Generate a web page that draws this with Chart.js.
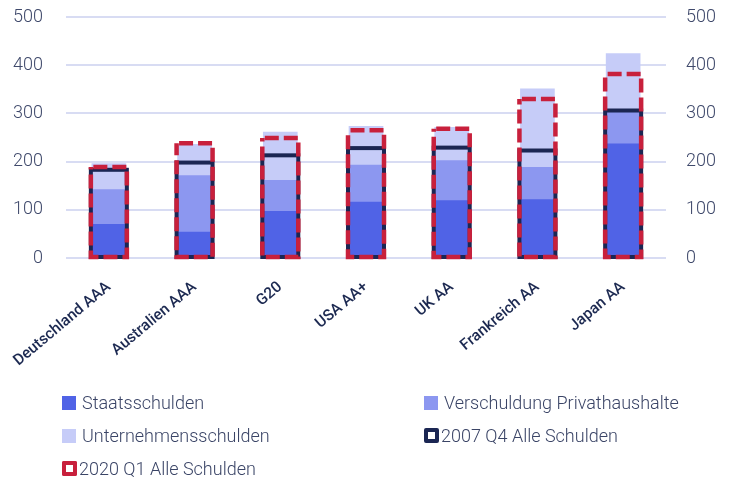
<!DOCTYPE html>
<html>
<head>
<meta charset="utf-8">
<script src="https://cdn.jsdelivr.net/npm/chart.js@4.4.0/dist/chart.umd.min.js"></script>
<style>
  html, body { margin: 0; padding: 0; background: #fff; }
  #wrap { position: relative; width: 732px; height: 482px; }
  #legend {
    position: absolute; left: 62px; top: 386px; width: 660px;
    display: grid; grid-template-columns: 362px auto; grid-auto-rows: 33px;
    font: 300 18px Roboto, sans-serif; color: #3a4466;
  }
  .item { display: flex; align-items: center; }
  .sw { width: 14px; height: 14px; margin-right: 6px; box-sizing: border-box; flex: none; }
</style>
</head>
<body>
<div id="wrap">
  <canvas id="debtChart" width="732" height="482"></canvas>
  <div id="legend"></div>
</div>
<script>
// Schuldenquoten in % des BIP
const laender = ['Deutschland AAA', 'Australien AAA', 'G20', 'USA AA+', 'UK AA', 'Frankreich AA', 'Japan AA'];
const staatsschulden = [70, 54, 97, 116, 119, 121, 237];
const privathaushalte = [72, 117, 64, 77, 83, 67, 66];
const unternehmensschulden = [54, 65, 100, 80, 69, 163, 121];
const alleSchulden2007 = [183, 198, 213, 228, 229, 223, 306];
const alleSchulden2020 = [189, 238, 249, 265, 268, 330, 382];
const yTicks = [0, 100, 200, 300, 400, 500];

const tickFont = { family: 'Roboto', size: 18, weight: 300 };

// Umrisse fuer die "Alle Schulden"-Balken (gestrichelt geht nicht mit borderWidth)
const outlinePlugin = {
  id: 'outlines',
  afterDatasetsDraw(chart) {
    const ctx = chart.ctx;
    chart.data.datasets.forEach((ds, i) => {
      if (!ds.outline) return;
      const meta = chart.getDatasetMeta(i);
      ctx.save();
      ctx.strokeStyle = ds.outline.color;
      ctx.lineWidth = ds.outline.width;
      ctx.setLineDash(ds.outline.dash);
      ctx.lineDashOffset = ds.outline.offset;
      meta.data.forEach(bar => {
        const { x, y, base, width } = bar.getProps(['x', 'y', 'base', 'width'], true);
        ctx.strokeRect(x - width / 2, y, width, base - y);
      });
      ctx.restore();
    });
  }
};

// feste Achsenmasse statt automatischer Abstaende
const fixSize = (w, h) => axis => {
  axis.paddingTop = 0; axis.paddingBottom = 0;
  axis.paddingLeft = 0; axis.paddingRight = 0;
  if (w) axis.width = w;
  if (h) axis.height = h;
};
const setTicks = axis => { axis.ticks = yTicks.map(v => ({ value: v })); };

const datasets = [
  { label: 'Staatsschulden', data: staatsschulden, backgroundColor: '#5063e6', stack: 'main', barThickness: 34 },
  { label: 'Verschuldung Privathaushalte', data: privathaushalte, backgroundColor: '#8c97f0', stack: 'main', barThickness: 34 },
  { label: 'Unternehmensschulden', data: unternehmensschulden, backgroundColor: '#c6ccf8', stack: 'main', barThickness: 34 },
  { label: '2007 Q4 Alle Schulden', data: alleSchulden2007, backgroundColor: 'rgba(0,0,0,0)', stack: 'q4',
    grouped: false, maxBarThickness: 36, outline: { color: '#1b2653', width: 4, dash: [], offset: 0 } },
  { label: '2020 Q1 Alle Schulden', data: alleSchulden2020, backgroundColor: 'rgba(0,0,0,0)', stack: 'q1',
    grouped: false, maxBarThickness: 36, outline: { color: '#c8203c', width: 4.5, dash: [14, 5], offset: -2.5 } }
];

const ctx = document.getElementById('debtChart').getContext('2d');

const debtChart = new Chart(ctx, {
  type: 'bar',
  data: { labels: laender, datasets: datasets },
  options: {
    responsive: false,
    animation: false,
    layout: { padding: { top: 17, left: 0, right: 0, bottom: 74 } },
    plugins: {
      legend: { display: false },
      tooltip: { enabled: false }
    },
    scales: {
      x: {
        stacked: true,
        afterFit: fixSize(0, 150),
        grid: { display: false },
        border: { display: false },
        ticks: {
          minRotation: 40, maxRotation: 40, padding: 12, autoSkip: false,
          color: '#1c2951',
          font: { family: 'Roboto', size: 15.5, weight: 500 }
        }
      },
      y: {
        stacked: true,
        min: 0, max: 500,
        afterBuildTicks: setTicks,
        afterFit: fixSize(66, 0),
        grid: { color: '#d8dcf3', lineWidth: 2, drawTicks: false },
        border: { display: false },
        ticks: { padding: 23, color: '#3f496b', font: tickFont }
      },
      y2: {
        position: 'right',
        min: 0, max: 500,
        afterBuildTicks: setTicks,
        afterFit: fixSize(66, 0),
        grid: { display: false, drawTicks: false },
        border: { display: false },
        ticks: { padding: 20, color: '#3f496b', font: tickFont }
      }
    }
  },
  plugins: [outlinePlugin]
});

// Legende in zwei Spalten
const legendEl = document.getElementById('legend');
datasets.forEach(ds => {
  const item = document.createElement('div');
  item.className = 'item';
  const sw = document.createElement('span');
  sw.className = 'sw';
  if (ds.outline) {
    sw.style.border = '4px ' + (ds.outline.dash.length ? 'dashed ' : 'solid ') + ds.outline.color;
    sw.style.borderRadius = '2px';
    sw.style.width = '15px';
    sw.style.height = '15px';
    sw.style.marginRight = '2px';
  } else {
    sw.style.background = ds.backgroundColor;
  }
  const txt = document.createElement('span');
  txt.textContent = ds.label;
  item.appendChild(sw);
  item.appendChild(txt);
  legendEl.appendChild(item);
});
</script>
</body>
</html>
